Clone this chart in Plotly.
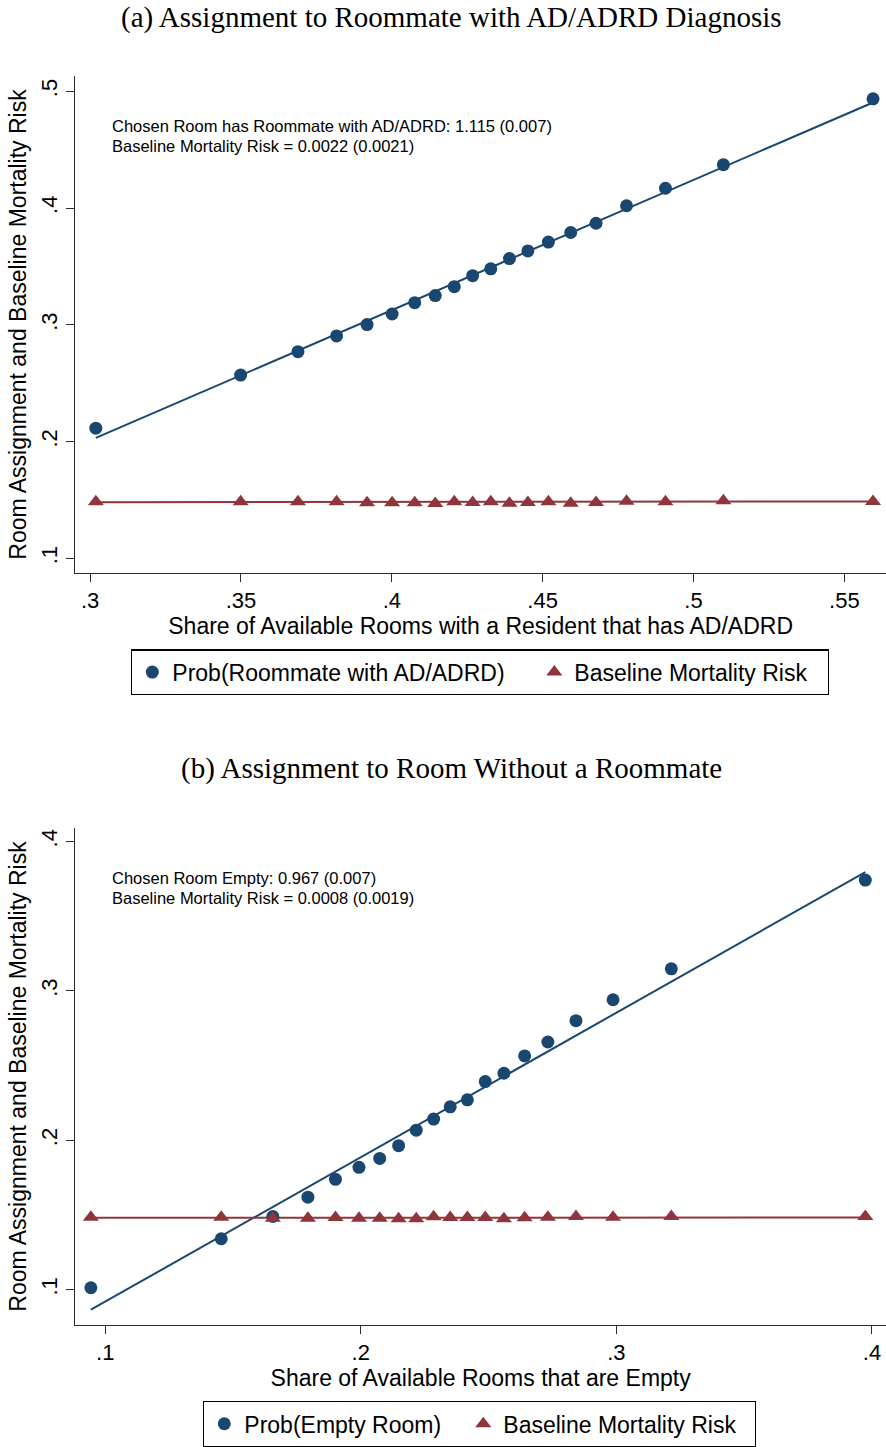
import plotly.graph_objects as go

# ---------------- Panel (a): roommate with AD/ADRD ----------------
share_ad = [0.3019, 0.3499, 0.3689, 0.3817, 0.3918, 0.4001, 0.4076, 0.4144, 0.4207, 0.4268,
            0.4328, 0.4390, 0.4451, 0.4519, 0.4593, 0.4677, 0.4778, 0.4907, 0.5099, 0.5595]
prob_ad = [0.2115, 0.2570, 0.2770, 0.2905, 0.3002, 0.3093, 0.3190, 0.3251, 0.3327, 0.3421,
           0.3480, 0.3568, 0.3633, 0.3709, 0.3791, 0.3870, 0.4020, 0.4170, 0.4372, 0.4936]
risk_ad = [0.1484, 0.1484, 0.1484, 0.1484, 0.1476, 0.1476, 0.1476, 0.1470, 0.1484, 0.1478,
           0.1484, 0.1473, 0.1478, 0.1484, 0.1473, 0.1478, 0.1490, 0.1484, 0.1493, 0.1487]
fit_ad = {"slope": 1.115, "intercept": -0.1334}
base_ad = {"slope": 0.0022, "intercept": 0.1475}

# ---------------- Panel (b): empty room ----------------
share_empty = [0.0944, 0.1454, 0.1656, 0.1793, 0.1901, 0.1993, 0.2074, 0.2148, 0.2217, 0.2285,
               0.2350, 0.2417, 0.2487, 0.2560, 0.2641, 0.2732, 0.2842, 0.2987, 0.3215, 0.3974]
prob_empty = [0.1013, 0.1341, 0.1490, 0.1619, 0.1739, 0.1819, 0.1879, 0.1964, 0.2068, 0.2142,
              0.2224, 0.2271, 0.2393, 0.2449, 0.2565, 0.2658, 0.2801, 0.2941, 0.3148, 0.3742]
risk_empty = [0.1485, 0.1485, 0.1478, 0.1478, 0.1483, 0.1478, 0.1478, 0.1474, 0.1474, 0.1488,
              0.1483, 0.1483, 0.1483, 0.1474, 0.1481, 0.1485, 0.1490, 0.1485, 0.1490, 0.1490]
fit_empty = {"slope": 0.967, "intercept": -0.0047}
base_empty = {"slope": 0.0008, "intercept": 0.1480}

# Tick values and labels
xticks_a = [0.30, 0.35, 0.40, 0.45, 0.50, 0.55]
xlabels_a = [".3", ".35", ".4", ".45", ".5", ".55"]
yticks_a = [0.1, 0.2, 0.3, 0.4, 0.5]
ylabels_a = [".1", ".2", ".3", ".4", ".5"]
xticks_b = [0.1, 0.2, 0.3, 0.4]
xlabels_b = [".1", ".2", ".3", ".4"]
yticks_b = [0.1, 0.2, 0.3, 0.4]
ylabels_b = [".1", ".2", ".3", ".4"]

NAVY = "#1a476f"
MAROON = "#90353b"
AXIS = "#2a2a2a"
SANS = "Liberation Sans, Arial, sans-serif"
SERIF = "Liberation Serif, Times New Roman, serif"

W, H = 886, 1447


def fit_line(xs, coef):
    lo, hi = min(xs), max(xs)
    return [lo, hi], [coef["intercept"] + coef["slope"] * lo, coef["intercept"] + coef["slope"] * hi]


fig = go.Figure()


def add_panel(xs, prob, risk, fit, base, xa, ya, legend, prob_name, lw1, lw2):
    fx, fy = fit_line(xs, fit)
    bx, by = fit_line(xs, base)
    fig.add_trace(go.Scatter(x=fx, y=fy, mode="lines", line=dict(color=NAVY, width=2),
                             xaxis=xa, yaxis=ya, showlegend=False, hoverinfo="skip"))
    fig.add_trace(go.Scatter(x=bx, y=by, mode="lines", line=dict(color=MAROON, width=2),
                             xaxis=xa, yaxis=ya, showlegend=False, hoverinfo="skip"))
    fig.add_trace(go.Scatter(x=xs, y=prob, mode="markers", name=prob_name,
                             marker=dict(symbol="circle", size=13, color=NAVY),
                             xaxis=xa, yaxis=ya, legend=legend, legendwidth=lw1))
    fig.add_trace(go.Scatter(x=xs, y=risk, mode="markers", name="Baseline Mortality Risk",
                             marker=dict(symbol="triangle-up", size=14, color=MAROON),
                             xaxis=xa, yaxis=ya, legend=legend, legendwidth=lw2))


add_panel(share_ad, prob_ad, risk_ad, fit_ad, base_ad, "x", "y", "legend",
          "Prob(Roommate with AD/ADRD)", 357, 248)
add_panel(share_empty, prob_empty, risk_empty, fit_empty, base_empty, "x2", "y2", "legend2",
          "Prob(Empty Room)", 214, 246)


def py(px):
    return 1 - px / H


x_dom = [75.3 / W, 1.0]
axis_common = dict(showline=True, linecolor=AXIS, linewidth=1.3, ticks="outside",
                   ticklen=8, tickwidth=1.3, tickcolor=AXIS, showgrid=False, zeroline=False,
                   tickfont=dict(family=SANS, size=22, color="black"),
                   title_font=dict(family=SANS, size=23, color="black"),
                   automargin=False, mirror=False)

fig.update_layout(
    width=W, height=H,
    margin=dict(l=0, r=0, t=0, b=0),
    paper_bgcolor="white", plot_bgcolor="white",
    showlegend=True,
    xaxis=dict(domain=x_dom, anchor="y", range=[0.2951, 0.5638], tickvals=xticks_a,
               ticktext=xlabels_a, title=dict(text="Share of Available Rooms with a Resident that has AD/ADRD",
                                              standoff=3), **axis_common),
    yaxis=dict(domain=[py(575), py(76.7)], anchor="x", range=[0.0878, 0.5128], tickvals=yticks_a,
               ticktext=ylabels_a, tickangle=-90,
               title=dict(text="Room Assignment and Baseline Mortality Risk", standoff=4), **axis_common),
    xaxis2=dict(domain=x_dom, anchor="y2", range=[0.0883, 0.4055], tickvals=xticks_b,
                ticktext=xlabels_b, title=dict(text="Share of Available Rooms that are Empty", standoff=4),
                **axis_common),
    yaxis2=dict(domain=[py(1330.3), py(831.7)], anchor="x2", range=[0.0765, 0.4089], tickvals=yticks_b,
                ticktext=ylabels_b, tickangle=-90,
                title=dict(text="Room Assignment and Baseline Mortality Risk", standoff=4), **axis_common),
    legend=dict(orientation="h", x=131 / W, xanchor="left", y=py(652), yanchor="top",
                bordercolor="black", borderwidth=1.3, bgcolor="white",
                font=dict(family=SANS, size=23, color="black")),
    legend2=dict(orientation="h", x=203 / W, xanchor="left", y=py(1407), yanchor="top",
                 bordercolor="black", borderwidth=1.3, bgcolor="white",
                 font=dict(family=SANS, size=23, color="black")),
)

annotations = [
    dict(text="(a) Assignment to Roommate with AD/ADRD Diagnosis", x=451 / W, y=py(18),
         font=dict(family=SERIF, size=29, color="black")),
    dict(text="(b) Assignment to Room Without a Roommate", x=451 / W, y=py(772),
         font=dict(family=SERIF, size=29, color="black")),
    dict(text="Chosen Room has Roommate with AD/ADRD: 1.115 (0.007)", x=110 / W, y=py(127),
         xanchor="left", font=dict(family=SANS, size=16.5, color="black")),
    dict(text="Baseline Mortality Risk = 0.0022 (0.0021)", x=110 / W, y=py(147),
         xanchor="left", font=dict(family=SANS, size=16.5, color="black")),
    dict(text="Chosen Room Empty: 0.967 (0.007)", x=110 / W, y=py(882),
         xanchor="left", font=dict(family=SANS, size=16.5, color="black")),
    dict(text="Baseline Mortality Risk = 0.0008 (0.0019)", x=110 / W, y=py(902),
         xanchor="left", font=dict(family=SANS, size=16.5, color="black")),
]
for a in annotations:
    a.setdefault("xanchor", "center")
    fig.add_annotation(xref="paper", yref="paper", showarrow=False, yanchor="middle", **a)

fig.write_html("out.html")
